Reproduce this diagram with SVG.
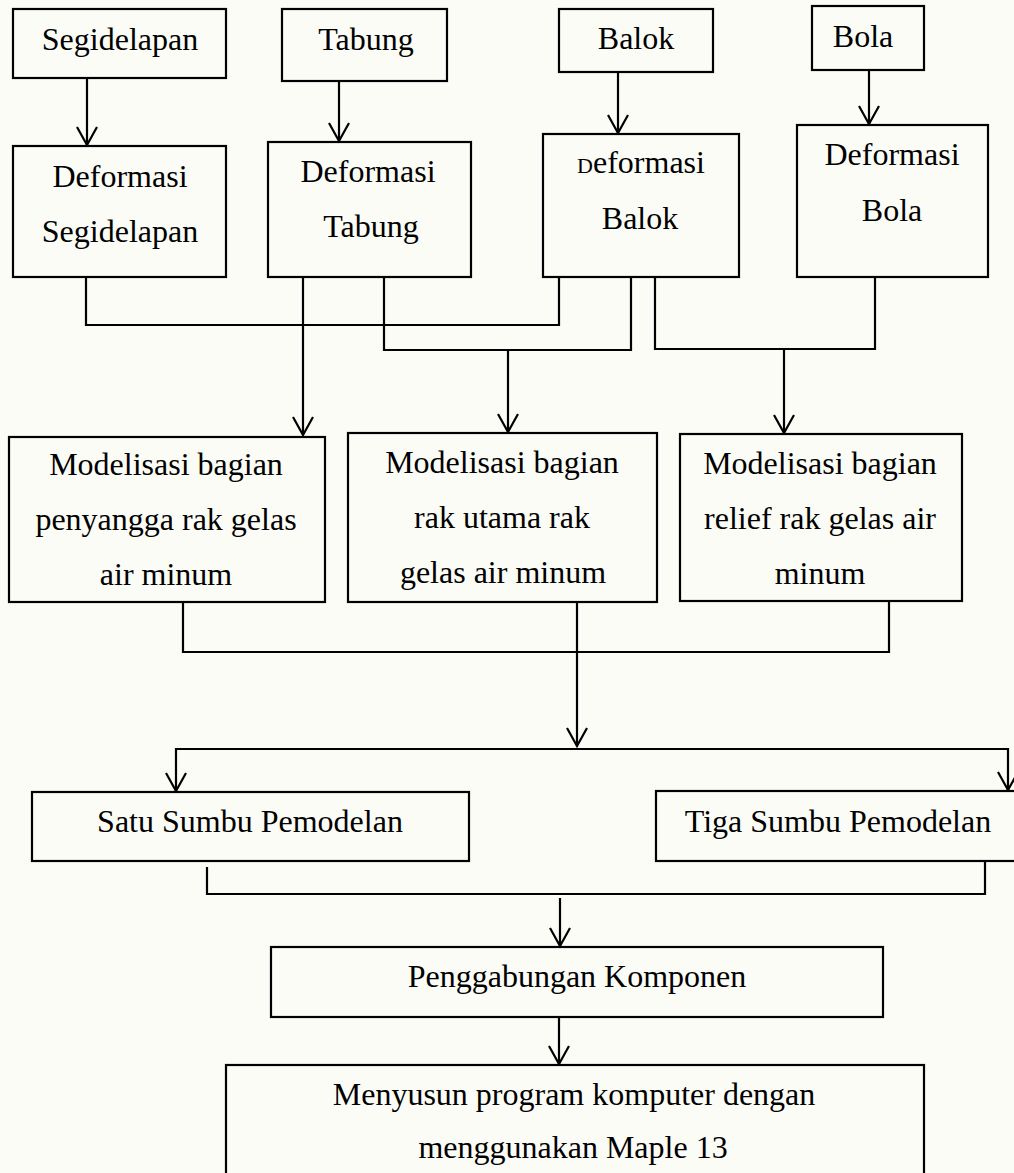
<svg xmlns="http://www.w3.org/2000/svg" width="1014" height="1173" viewBox="0 0 1014 1173">
  <defs>
    <style>
      .box { fill: none; stroke: #000; stroke-width: 2.2; }
      .lbl { font-family: "Liberation Serif", "Times New Roman", serif; font-size: 32px; fill: #000; text-anchor: middle; }
      .con { fill: none; stroke: #000; stroke-width: 2.2; stroke-linejoin: miter; }
      .arr { marker-end: url(#ah); }
    </style>
    <marker id="ah" markerUnits="userSpaceOnUse" viewBox="-20 -12 22 24" markerWidth="22" markerHeight="24" refX="0" refY="0" orient="auto" overflow="visible">
      <path d="M-18,-10 L0,0 L-18,10" fill="none" stroke="#000" stroke-width="2.2"/>
    </marker>
  </defs>
  <rect x="0" y="0" width="1014" height="1173" fill="#fcfcf7"/>

  <g id="connectors">
    <path class="con arr" d="M87,78 V145"/>
    <path class="con arr" d="M339,81 V141"/>
    <path class="con arr" d="M618,72 V133"/>
    <path class="con arr" d="M869,70 V124"/>
    <path class="con" d="M86,277 V325 H559 V277"/>
    <path class="con arr" d="M303,277 V435"/>
    <path class="con" d="M384,277 V350 H631 V277"/>
    <path class="con arr" d="M508,350 V432"/>
    <path class="con" d="M655,277 V349 H875 V277"/>
    <path class="con arr" d="M784,349 V433"/>
    <path class="con" d="M183,602 V652 H889 V602"/>
    <path class="con arr" d="M577,602 V746"/>
    <path class="con arr" d="M577,749 H176 V791"/>
    <path class="con arr" d="M577,749 H1008 V790"/>
    <path class="con" d="M207,867 V894 H985 V862"/>
    <path class="con arr" d="M560,898 V946"/>
    <path class="con arr" d="M559,1017 V1064"/>
  </g>

  <g id="n-segidelapan">
    <rect class="box" x="13" y="9" width="213" height="69"/>
    <text class="lbl" x="120" y="50">Segidelapan</text>
  </g>
  <g id="n-tabung">
    <rect class="box" x="282" y="9" width="165" height="72"/>
    <text class="lbl" x="366" y="50">Tabung</text>
  </g>
  <g id="n-balok">
    <rect class="box" x="559" y="9" width="154" height="63"/>
    <text class="lbl" x="636" y="49">Balok</text>
  </g>
  <g id="n-bola">
    <rect class="box" x="812" y="6" width="112" height="64"/>
    <text class="lbl" x="863" y="47">Bola</text>
  </g>

  <g id="n-def-segidelapan">
    <rect class="box" x="13" y="146" width="213" height="131"/>
    <text class="lbl" x="120" y="187">Deformasi</text>
    <text class="lbl" x="120" y="242">Segidelapan</text>
  </g>
  <g id="n-def-tabung">
    <rect class="box" x="268" y="142" width="203" height="135"/>
    <text class="lbl" x="368" y="182">Deformasi</text>
    <text class="lbl" x="371" y="237">Tabung</text>
  </g>
  <g id="n-def-balok">
    <rect class="box" x="543" y="134" width="196" height="143"/>
    <text class="lbl" x="641" y="173"><tspan font-size="22">D</tspan>eformasi</text>
    <text class="lbl" x="640" y="229">Balok</text>
  </g>
  <g id="n-def-bola">
    <rect class="box" x="797" y="125" width="191" height="152"/>
    <text class="lbl" x="892" y="165">Deformasi</text>
    <text class="lbl" x="892" y="221">Bola</text>
  </g>

  <g id="n-model-penyangga">
    <rect class="box" x="9" y="437" width="316" height="165"/>
    <text class="lbl" x="166" y="475">Modelisasi bagian</text>
    <text class="lbl" x="166" y="530">penyangga rak gelas</text>
    <text class="lbl" x="166" y="585">air minum</text>
  </g>
  <g id="n-model-utama">
    <rect class="box" x="348" y="433" width="309" height="169"/>
    <text class="lbl" x="502" y="473">Modelisasi bagian</text>
    <text class="lbl" x="502" y="528">rak utama rak</text>
    <text class="lbl" x="503" y="583">gelas air minum</text>
  </g>
  <g id="n-model-relief">
    <rect class="box" x="680" y="434" width="282" height="167"/>
    <text class="lbl" x="820" y="474">Modelisasi bagian</text>
    <text class="lbl" x="820" y="529">relief rak gelas air</text>
    <text class="lbl" x="820" y="584">minum</text>
  </g>

  <g id="n-satu">
    <rect class="box" x="32" y="792" width="437" height="69"/>
    <text class="lbl" x="250" y="832">Satu Sumbu Pemodelan</text>
  </g>
  <g id="n-tiga">
    <rect class="box" x="656" y="791" width="364" height="70"/>
    <text class="lbl" x="838" y="832">Tiga Sumbu Pemodelan</text>
  </g>

  <g id="n-penggabungan">
    <rect class="box" x="271" y="947" width="612" height="70"/>
    <text class="lbl" x="577" y="987">Penggabungan Komponen</text>
  </g>
  <g id="n-menyusun">
    <rect class="box" x="226" y="1065" width="698" height="130"/>
    <text class="lbl" x="574" y="1105">Menyusun program komputer dengan</text>
    <text class="lbl" x="573" y="1158">menggunakan Maple 13</text>
  </g>
</svg>
